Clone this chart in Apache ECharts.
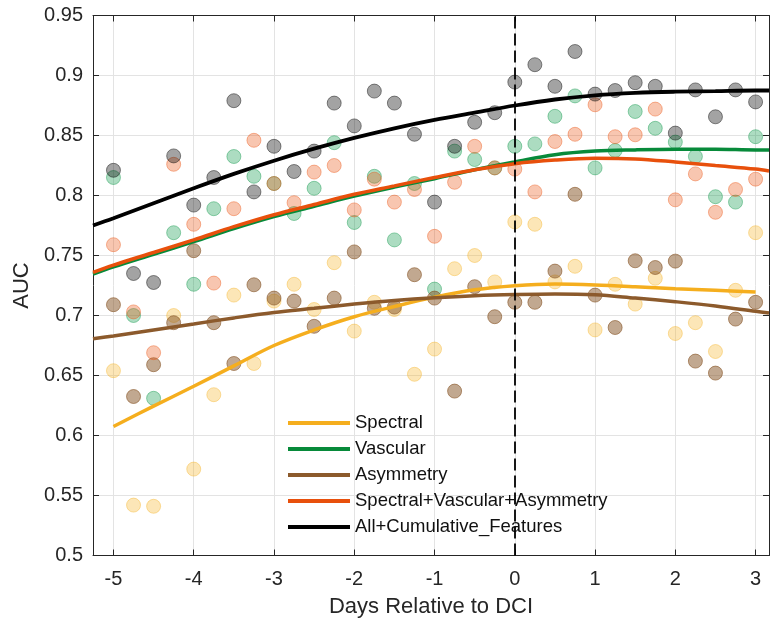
<!DOCTYPE html>
<html><head><meta charset="utf-8">
<script src="https://cdn.jsdelivr.net/npm/echarts@6/dist/echarts.min.js"></script>
<style>html,body{margin:0;padding:0;background:#fff}#c{width:772px;height:625px}</style>
</head><body><div id="c"></div>
<script>
// ---- data ----
const days = [-5,-4.75,-4.5,-4.25,-4,-3.75,-3.5,-3.25,-3,-2.75,-2.5,-2.25,-2,-1.75,-1.5,-1.25,-1,-0.75,-0.5,-0.25,0,0.25,0.5,0.75,1,1.25,1.5,1.75,2,2.25,2.5,2.75,3];
const spectralPts = [0.654,0.542,0.541,0.700,0.572,0.634,0.717,0.660,0.712,0.726,0.705,0.744,0.687,0.711,0.705,0.651,0.672,0.739,0.750,0.728,0.778,0.776,0.728,0.741,0.688,0.726,0.7095,0.731,0.685,0.694,0.670,0.721,0.769];
const vascularPts = [0.815,0.700,0.631,0.769,0.726,0.789,0.8325,0.816,0.810,0.785,0.806,0.844,0.7775,0.816,0.763,0.810,0.722,0.837,0.830,0.823,0.841,0.843,0.866,0.883,0.823,0.8375,0.870,0.856,0.8445,0.8325,0.799,0.7945,0.849];
const asymmetryPts = [0.709,0.6325,0.659,0.694,0.754,0.694,0.660,0.7256,0.7145,0.712,0.691,0.7145,0.753,0.706,0.707,0.734,0.7145,0.637,0.724,0.699,0.711,0.711,0.737,0.801,0.717,0.690,0.7456,0.740,0.7453,0.662,0.652,0.697,0.711];
const combinedPts = [0.759,0.703,0.669,0.826,0.776,0.727,0.789,0.846,0.810,0.794,0.8195,0.825,0.788,0.8136,0.7945,0.805,0.766,0.811,0.841,0.823,0.822,0.803,0.845,0.851,0.8756,0.849,0.8506,0.872,0.7964,0.818,0.786,0.805,0.8136];
const allCumPts = [0.821,0.735,0.7275,0.833,0.792,0.815,0.879,0.803,0.841,0.820,0.837,0.877,0.858,0.887,0.877,0.851,0.7945,0.841,0.861,0.869,0.8945,0.909,0.891,0.920,0.8845,0.8875,0.894,0.891,0.852,0.888,0.8656,0.888,0.878];

// fitted curves
const fitX = [-5.255,-5,-4.5,-4,-3.5,-3,-2.5,-2,-1.5,-1,-0.5,0,0.5,1,1.5,2,2.5,3,3.167];
const allCumFit = [0.775,0.781,0.7935,0.806,0.818,0.829,0.839,0.848,0.856,0.863,0.869,0.875,0.880,0.8835,0.8855,0.8865,0.887,0.8875,0.8875];
const vascularFit = [0.7345,0.7405,0.751,0.7615,0.7725,0.7825,0.791,0.7995,0.807,0.814,0.8215,0.828,0.834,0.837,0.838,0.8385,0.8385,0.838,0.838];
const combinedFit = [0.736,0.742,0.7525,0.763,0.774,0.784,0.7925,0.801,0.808,0.815,0.8215,0.8265,0.8295,0.831,0.8305,0.828,0.825,0.822,0.8205];
const asymmetryFit = [0.6806,0.683,0.688,0.693,0.698,0.7025,0.706,0.7095,0.7125,0.7148,0.7165,0.7175,0.718,0.7173,0.7145,0.7115,0.708,0.7035,0.702];
const spectralFitX = [-5,-4.5,-4,-3.5,-3,-2.5,-2,-1.5,-1,-0.5,0,0.5,1,1.5,2,2.5,3];
const spectralFit = [0.6075,0.6245,0.641,0.658,0.675,0.688,0.699,0.7075,0.7153,0.7214,0.7248,0.7262,0.7255,0.724,0.7222,0.721,0.7195];

const names = ['Spectral','Vascular','Asymmetry','Spectral+Vascular+Asymmetry','All+Cumulative_Features'];
const xTicks = [-5,-4,-3,-2,-1,0,1,2,3];
const yTicks = [0.5,0.55,0.6,0.65,0.7,0.75,0.8,0.85,0.9,0.95];

// ---- chart ----
const FONT = 'Liberation Sans, Arial, sans-serif';
const AX = '#262626';
const pair = (xs, ys) => xs.map((x, i) => [x, ys[i]]);

function scatter(name, ys, rgb, a) {
  return {
    type: 'scatter', name: name + ' pts', data: pair(days, ys), symbolSize: 14,
    itemStyle: { color: `rgba(${rgb},${a})`, borderColor: `rgba(${rgb},${Math.min(1, a + 0.1)})`, borderWidth: 1 },
    z: 2, silent: true
  };
}
function fit(name, xs, ys, color, w) {
  return {
    type: 'line', name: name, data: pair(xs, ys), smooth: 0.35, symbol: 'none',
    color: color, lineStyle: { color: color, width: w }, z: 5, silent: true
  };
}

const series = [
  scatter('Spectral', spectralPts, '245,177,32', 0.4),
  scatter('Vascular', vascularPts, '10,150,70', 0.42),
  scatter('Asymmetry', asymmetryPts, '130,78,30', 0.62),
  scatter('Combined', combinedPts, '235,85,20', 0.42),
  scatter('AllCum', allCumPts, '0,0,0', 0.45),
  fit(names[0], spectralFitX, spectralFit, '#F5AE1E', 3.5),
  fit(names[1], fitX, vascularFit, '#078A3A', 3.5),
  fit(names[2], fitX, asymmetryFit, '#8C5A2C', 3.5),
  fit(names[3], fitX, combinedFit, '#E8500C', 3.5),
  fit(names[4], fitX, allCumFit, '#000000', 3.8),
];
series[5].markLine = {
  silent: true, symbol: 'none', label: { show: false },
  lineStyle: { color: '#000', type: [12, 5], width: 1.8 },
  data: [{ xAxis: 0 }], z: 6
};

const xLabelFmt = v => xTicks.some(t => Math.abs(t - v) < 1e-6) ? String(Math.round(v)) : '';

const chart = echarts.init(document.getElementById('c'), null, { renderer: 'canvas' });
chart.setOption({
  animation: false,
  backgroundColor: '#fff',
  textStyle: { fontFamily: FONT },
  grid: { left: 93, right: 1, top: 15.5, bottom: 69.5, containLabel: false },
  legend: {
    data: names, orient: 'vertical', left: 288, top: 410, itemGap: 0, padding: 0,
    itemWidth: 62, itemHeight: 4, icon: 'rect',
    textStyle: { fontFamily: FONT, fontSize: 18.5, color: '#111', lineHeight: 26 },
    selectedMode: false
  },
  xAxis: [{
    type: 'value', min: -5.255, max: 3.167, minInterval: 1, maxInterval: 1,
    position: 'bottom',
    name: 'Days Relative to DCI', nameLocation: 'middle', nameGap: 40,
    nameTextStyle: { fontFamily: FONT, fontSize: 22, color: AX },
    axisLine: { show: true, onZero: false, lineStyle: { color: AX, width: 1 } },
    axisTick: { show: true, inside: true, length: 6, lineStyle: { color: AX } },
    axisLabel: { fontFamily: FONT, fontSize: 20, color: AX, margin: 14, formatter: xLabelFmt, showMinLabel: true, showMaxLabel: true },
    splitLine: { show: true, lineStyle: { color: '#e3e3e3', width: 1 } }
  }, {
    type: 'value', min: -5.255, max: 3.167, minInterval: 1, maxInterval: 1,
    position: 'top',
    axisLine: { show: true, onZero: false, lineStyle: { color: AX, width: 1 } },
    axisTick: { show: true, inside: true, length: 6, lineStyle: { color: AX } },
    axisLabel: { show: false }, splitLine: { show: false }
  }],
  yAxis: [{
    type: 'value', min: 0.5, max: 0.95, interval: 0.05, position: 'left',
    name: 'AUC', nameLocation: 'middle', nameGap: 58,
    nameTextStyle: { fontFamily: FONT, fontSize: 22, color: AX },
    axisLine: { show: true, onZero: false, lineStyle: { color: AX, width: 1 } },
    axisTick: { show: true, inside: true, length: 6, lineStyle: { color: AX } },
    axisLabel: { fontFamily: FONT, fontSize: 20, color: AX, margin: 10,
      formatter: v => String(parseFloat(v.toFixed(2))) },
    splitLine: { show: true, lineStyle: { color: '#e3e3e3', width: 1 } }
  }, {
    type: 'value', min: 0.5, max: 0.95, interval: 0.05, position: 'right',
    axisLine: { show: true, onZero: false, lineStyle: { color: AX, width: 1 } },
    axisTick: { show: true, inside: true, length: 6, lineStyle: { color: AX } },
    axisLabel: { show: false }, splitLine: { show: false }
  }],
  series: series
});
</script>
</body></html>
